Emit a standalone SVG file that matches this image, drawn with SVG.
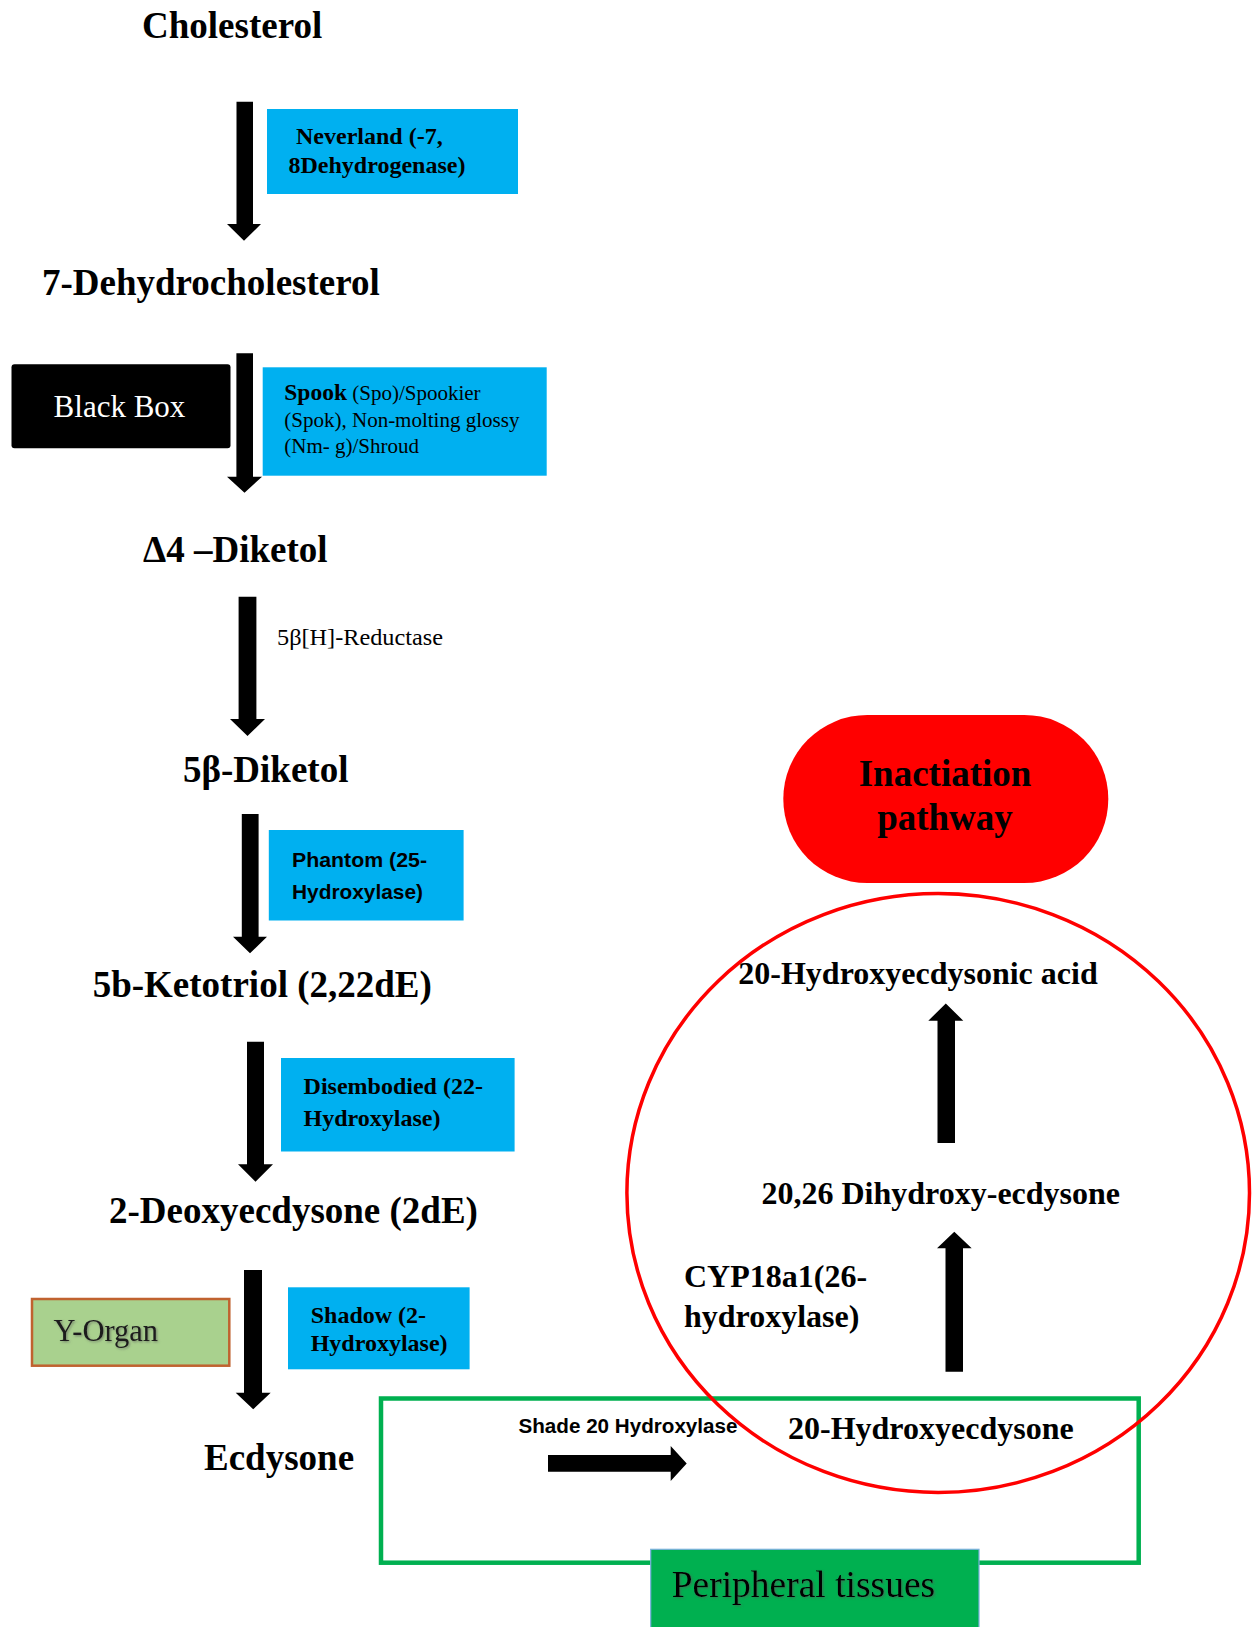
<svg xmlns="http://www.w3.org/2000/svg" width="1254" height="1627" viewBox="0 0 1254 1627">
<defs>
<style>
.main{font-family:"Liberation Serif","Times New Roman",serif;font-weight:bold;font-size:37px;fill:#000}
.enz{font-family:"Liberation Serif","Times New Roman",serif;font-weight:bold;font-size:24px;fill:#000}
.enzr{font-family:"Liberation Serif","Times New Roman",serif;font-size:21px;fill:#000}
.cal{font-family:"Liberation Sans",Arial,sans-serif;font-weight:bold;fill:#000}
.inact{font-family:"Liberation Serif","Times New Roman",serif;font-weight:bold;font-size:32px;fill:#000}
.blue{fill:#00b0f0}
.arrow{fill:#000}
</style>
<filter id="sh" x="-5%" y="-20%" width="110%" height="140%">
<feDropShadow dx="1.2" dy="1.2" stdDeviation="0.8" flood-color="#555" flood-opacity="0.6"/>
</filter>
</defs>
<rect width="1254" height="1627" fill="#fff"/>

<g id="cholesterol"><text class="main" x="142" y="38">Cholesterol</text></g>
<g id="neverland">
<rect class="blue" x="267" y="109" width="251" height="85"/>
<text class="enz" x="296" y="143.5">Neverland (-7,</text>
<text class="enz" x="288.5" y="172.7">8Dehydrogenase)</text>
</g>
<g id="dehydrocholesterol"><text class="main" x="42" y="295">7-Dehydrocholesterol</text></g>
<g id="blackbox">
<rect x="11.5" y="364.3" width="219" height="84" rx="3" fill="#000"/>
<text x="53.6" y="417" font-family="Liberation Serif,'Times New Roman',serif" font-size="31" fill="#fff">Black Box</text>
</g>
<g id="spook">
<rect class="blue" x="262.7" y="367.3" width="284" height="108.4"/>
<text class="enzr" x="284.3" y="400"><tspan font-weight="bold" font-size="23.5">Spook</tspan> (Spo)/Spookier</text>
<text class="enzr" x="284.3" y="426.7">(Spok), Non-molting glossy</text>
<text class="enzr" x="284.3" y="453.3">(Nm- g)/Shroud</text>
</g>
<g id="diketol4"><text class="main" x="143" y="561.7">Δ4 –Diketol</text></g>
<g id="reductase"><text x="277" y="645" font-family="Liberation Serif,'Times New Roman',serif" font-size="23.5" fill="#000" textLength="166" lengthAdjust="spacingAndGlyphs">5β[H]-Reductase</text></g>
<g id="diketol5b"><text class="main" x="183" y="781.7">5β-Diketol</text></g>
<g id="phantom">
<rect class="blue" x="268.8" y="830" width="194.8" height="90.5"/>
<text class="cal" x="292" y="866.7" font-size="21" textLength="135" lengthAdjust="spacingAndGlyphs">Phantom (25-</text>
<text class="cal" x="292" y="899.3" font-size="21" textLength="131" lengthAdjust="spacingAndGlyphs">Hydroxylase)</text>
</g>
<g id="ketotriol"><text class="main" x="92.7" y="997">5b-Ketotriol (2,22dE)</text></g>
<g id="disembodied">
<rect class="blue" x="281" y="1058" width="233.6" height="93.5"/>
<text class="enz" x="303.6" y="1094">Disembodied (22-</text>
<text class="enz" x="303.6" y="1126">Hydroxylase)</text>
</g>
<g id="deoxyecdysone"><text class="main" x="109" y="1222.7">2-Deoxyecdysone (2dE)</text></g>
<g id="yorgan">
<rect x="32" y="1299" width="197.3" height="66.7" fill="#a9d18e" stroke="#c0622f" stroke-width="2.5"/>
<text x="53.6" y="1340.7" font-family="Liberation Serif,'Times New Roman',serif" font-size="30.5" fill="#1a1a1a" filter="url(#sh)">Y-Organ</text>
</g>
<g id="shadow">
<rect class="blue" x="288" y="1287.3" width="181.6" height="82"/>
<text class="enz" x="310.7" y="1322.7">Shadow (2-</text>
<text class="enz" x="310.7" y="1350.7">Hydroxylase)</text>
</g>
<g id="ecdysone"><text class="main" x="204" y="1470">Ecdysone</text></g>

<g id="peripheral-frame">
<rect x="381" y="1398.5" width="757.7" height="164.2" fill="none" stroke="#00b050" stroke-width="4.5"/>
</g>
<g id="peripheral">
<rect x="650.7" y="1549.3" width="328.3" height="80" fill="#00b050" stroke="#7ab0dc" stroke-width="1.2"/>
<text x="671.7" y="1596.7" font-family="Liberation Serif,'Times New Roman',serif" font-size="37.5" fill="#000" filter="url(#sh)">Peripheral tissues</text>
</g>

<g id="inactivation">
<rect x="783.3" y="715" width="325" height="168" rx="84" ry="84" fill="#ff0000"/>
<text x="945" y="785.7" text-anchor="middle" font-family="Liberation Serif,'Times New Roman',serif" font-weight="bold" font-size="37" fill="#000">Inactiation</text>
<text x="945" y="830" text-anchor="middle" font-family="Liberation Serif,'Times New Roman',serif" font-weight="bold" font-size="37" fill="#000">pathway</text>
</g>
<g id="inactivation-zone">
<ellipse cx="938.2" cy="1193" rx="311.3" ry="299.5" fill="none" stroke="#ff0000" stroke-width="3.5"/>
</g>
<g id="hydroxyecdysonic-acid"><text class="inact" x="738.3" y="984">20-Hydroxyecdysonic acid</text></g>
<g id="dihydroxy-ecdysone"><text class="inact" x="761.5" y="1203.6">20,26 Dihydroxy-ecdysone</text></g>
<g id="cyp18a1">
<text class="inact" x="684" y="1287.3">CYP18a1(26-</text>
<text class="inact" x="684" y="1326.7">hydroxylase)</text>
</g>
<g id="hydroxyecdysone"><text class="inact" x="788" y="1438.5">20-Hydroxyecdysone</text></g>
<g id="shade"><text class="cal" x="518.5" y="1433" font-size="20" textLength="219" lengthAdjust="spacingAndGlyphs">Shade 20 Hydroxylase</text></g>

<g id="connectors">
<polygon class="arrow" points="236.5,101.7 253,101.7 253,224 261,224 244,240.7 227,224 236.5,224"/>
<polygon class="arrow" points="236.4,353.3 253,353.3 253,476.7 262,476.7 244.5,492.7 227,476.7 236.4,476.7"/>
<polygon class="arrow" points="238.6,596.7 256.4,596.7 256.4,719 265,719 247.5,736 230,719 238.6,719"/>
<polygon class="arrow" points="241.8,814 258.6,814 258.6,936.7 267,936.7 250,953.3 233,936.7 241.8,936.7"/>
<polygon class="arrow" points="247,1041.7 264,1041.7 264,1164.3 273,1164.3 255.5,1181.7 238,1164.3 247,1164.3"/>
<polygon class="arrow" points="244,1270 262,1270 262,1392.7 270.7,1392.7 253.2,1409.3 235.7,1392.7 244,1392.7"/>
<polygon class="arrow" points="937.5,1142.9 955,1142.9 955,1020.7 963.3,1020.7 945.8,1003.6 928.3,1020.7 937.5,1020.7"/>
<polygon class="arrow" points="945.5,1371.7 963,1371.7 963,1248.3 971.7,1248.3 954.3,1231.7 937,1248.3 945.5,1248.3"/>
<polygon class="arrow" points="548,1455 670.7,1455 670.7,1446 686.7,1463.5 670.7,1481 670.7,1471.7 548,1471.7"/>
</g>
</svg>
